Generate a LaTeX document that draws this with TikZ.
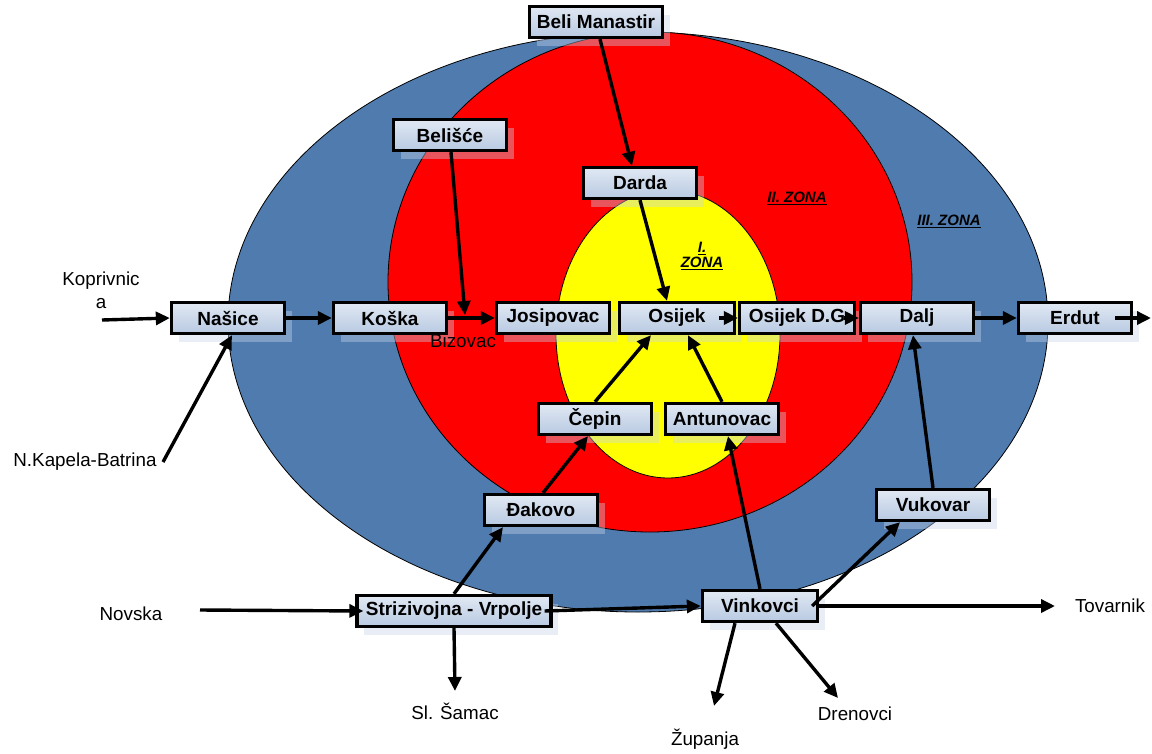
\documentclass[tikz,border=0pt]{standalone}
\usepackage{fontspec}
\setmainfont{Liberation Sans}
\usetikzlibrary{arrows.meta,shadows}
\definecolor{zblue}{HTML}{4F7BAE}
\definecolor{zred}{HTML}{FF0000}
\definecolor{zyellow}{HTML}{FFFF00}
\definecolor{boxtop}{HTML}{E1E8F3}
\definecolor{boxbot}{HTML}{B8C9E2}
\definecolor{shad}{HTML}{C9D6EA}
\tikzset{
  town/.style={draw=black, line width=3.3pt, top color=boxtop, bottom color=boxbot,
    minimum height=31pt, minimum width=113pt, inner sep=0pt,
    font=\fontsize{19}{21}\selectfont\bfseries,
    drop shadow={shadow xshift=7pt, shadow yshift=-8pt, fill=shad, opacity=0.4}},
  lbl/.style={font=\fontsize{18.8}{21}\selectfont, inner sep=0pt},
  zone/.style={font=\fontsize{15}{17}\selectfont\bfseries\itshape, inner sep=0pt, align=center},
  arr/.style={line width=3.4pt, -{Triangle[length=14pt,width=13pt]}},
  ring/.style={draw=black, line width=0.8pt}
}
\begin{document}
\begin{tikzpicture}[x=1pt,y=-1pt]
\useasboundingbox (0,0) rectangle (1152,753);
% zones
\fill[white] (0,0) rectangle (1152,753);
\draw[ring, fill=zblue] (638,322) ellipse [x radius=410pt, y radius=290pt];
\draw[ring, fill=zred] (650,282) ellipse [x radius=262pt, y radius=250pt];
\draw[ring, fill=zyellow] (668,334) ellipse [x radius=112pt, y radius=144pt];
% zone labels
\node[zone] (z1) at (702,256) {\underline{I.}\\[-2pt]\underline{ZONA}};
\node[zone] (z2) at (797,198) {\underline{II. ZONA}};
\node[zone] (z3) at (949,221) {\underline{III. ZONA}};
% towns
\node[town, minimum width=133pt] (beli) at (596,22) {Beli Manastir};
\node[town] (belisce) at (450,135) {Beli\v{s}\'{c}e};
\node[town] (darda) at (640,183) {Darda};
\node[town] (nasice) at (228,318) {Na\v{s}ice};
\node[town] (koska) at (390,318) {Ko\v{s}ka};
\node[town] (josipovac) at (553,318) {Josipovac};
\node[town, minimum width=115pt] (osijek) at (677,318) {Osijek};
\node[town, minimum width=115pt] (osijekdg) at (797,318) {Osijek D.G};
\node[town] (dalj) at (917,318) {Dalj};
\node[town] (erdut) at (1075,318) {Erdut};
\node[town] (cepin) at (595,419) {\v{C}epin};
\node[town] (antunovac) at (722,419) {Antunovac};
\node[town] (dakovo) at (541,510) {Đakovo};
\node[town] (vukovar) at (933,505) {Vukovar};
\node[town, minimum width=194pt] (striz) at (454,611) {Strizivojna - Vrpolje};
\node[town, minimum width=115pt] (vinkovci) at (760,606) {Vinkovci};
% free labels
\node[lbl] (koprl) at (101,281) {Koprivnic};
\node[lbl] (kopra) at (101,304) {a};
\node[lbl] (nkapl) at (85,462) {N.Kapela-Batrina};
\node[lbl] (bizl) at (463,341) {Bizovac};
\node[lbl] (novl) at (131,614) {Novska};
\node[lbl] (saml) at (455,711) {Sl. \v{S}amac};
\node[lbl] (zupl) at (705,739) {\v{Z}upanja};
\node[lbl] (drel) at (855,714) {Drenovci};
\node[lbl] (tovl) at (1110,606) {Tovarnik};
% free ends
\coordinate (kop) at (102,320);
\coordinate (nkap) at (163,462);
\coordinate (biz) at (465,315);
\coordinate (erdout) at (1151,318);
\coordinate (nov) at (200,610);
\coordinate (sam) at (455,691);
\coordinate (tov) at (1055,606);
\coordinate (zup) at (714,706);
\coordinate (dre) at (838,698);
% connectors
\draw[arr] (kop) -- (nasice.west);
\draw[arr] (nkap) -- ([xshift=4pt]nasice.south);
\draw[arr] (nasice.east) -- (koska.west);
\draw[arr] (koska.east) -- (josipovac.west);
\draw[arr] ([xshift=1pt]belisce.south) -- (biz);
\draw[arr] ([xshift=4pt]beli.south) -- ([xshift=-8pt]darda.north);
\draw[arr] (darda.south) -- ([xshift=-10pt]osijek.north);
\draw[arr] ([xshift=-17pt]osijek.east) -- (osijekdg.west);
\draw[arr] ([xshift=-12pt]osijekdg.east) -- (dalj.west);
\draw[arr] (dalj.east) -- (erdut.west);
\draw[arr] ([xshift=-18pt]erdut.east) -- (erdout);
\draw[arr] (cepin.north) -- ([xshift=-26pt]osijek.south);
\draw[arr] (antunovac.north) -- ([xshift=11pt]osijek.south);
\draw[arr] ([xshift=2pt]dakovo.north) -- ([xshift=-7pt]cepin.south);
\draw[arr] (striz.north) -- ([xshift=-38pt]dakovo.south);
\draw[arr] (nov) -- ([xshift=8pt]striz.west);
\draw[arr] ([xshift=-8pt]striz.east) -- (vinkovci.west);
\draw[arr] (striz.south) -- (sam);
\draw[arr] (vinkovci.north) -- ([xshift=6pt]antunovac.south);
\draw[arr] ([xshift=-7pt]vinkovci.east) -- ([xshift=-33pt]vukovar.south);
\draw[arr] (vukovar.north) -- ([xshift=-4pt]dalj.south);
\draw[arr] (vinkovci.east) -- (tov);
\draw[arr] ([xshift=-25pt]vinkovci.south) -- (zup);
\draw[arr] ([xshift=16pt]vinkovci.south) -- (dre);
\end{tikzpicture}
\end{document}
